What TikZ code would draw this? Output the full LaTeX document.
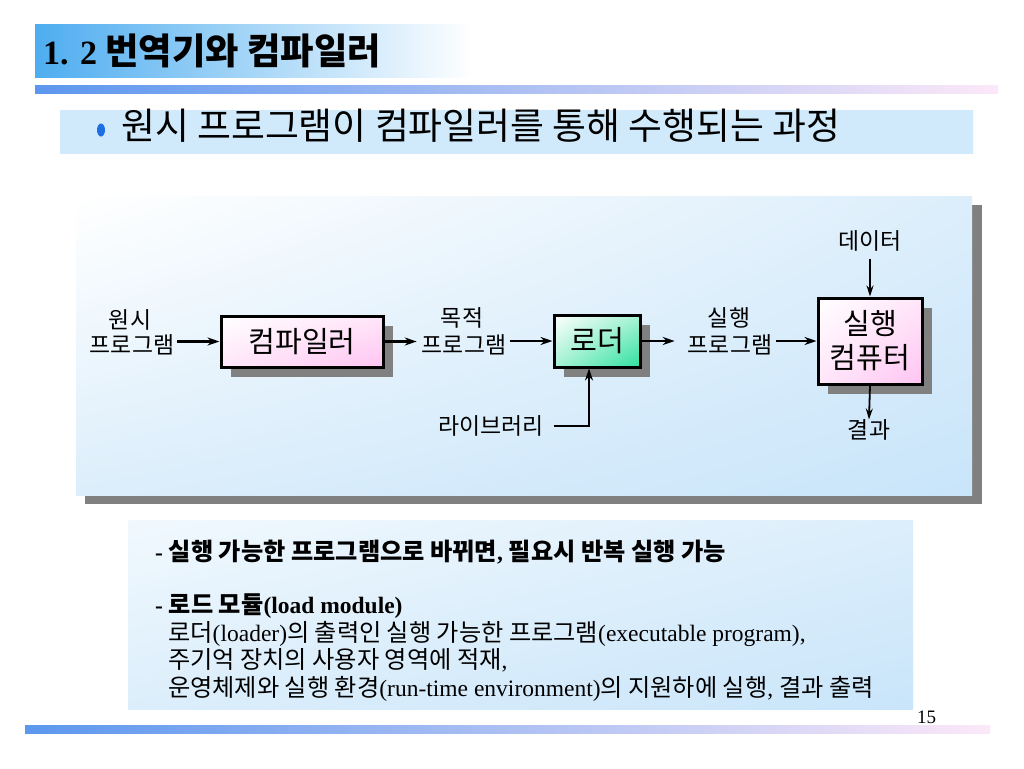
\documentclass[tikz,border=0pt]{standalone}
\usepackage{fontspec}
\setmainfont{Liberation Serif}
\newfontfamily\krf{Noto Sans CJK KR}[Scale=1.1]
\newcommand{\kt}[1]{{\krf\fontsize{22}{27}\selectfont #1}}
\usetikzlibrary{arrows.meta,shadows,shadings}

\definecolor{titleblue}{HTML}{4EADF0}
\definecolor{titlemid}{HTML}{BCE1FA}
\definecolor{barleft}{HTML}{5C97EE}
\definecolor{barmid}{HTML}{92CAF8}
\definecolor{barright}{HTML}{FCE8F8}
\definecolor{subband}{HTML}{D0EAFB}
\definecolor{subbandmid}{HTML}{EEF7FD}
\definecolor{panelblue}{HTML}{C9E5FA}
\definecolor{panelside}{HTML}{DCEEFB}
\definecolor{shadowgray}{HTML}{808080}
\definecolor{pinkmid}{HTML}{FFE6F9}
\definecolor{pinkend}{HTML}{FFC4F2}
\definecolor{greenmid}{HTML}{A6F2D4}
\definecolor{greenend}{HTML}{2FE0A0}
\definecolor{bulletblue}{HTML}{1E6FE6}

\begin{document}
\begin{tikzpicture}[x=1pt, y=-1pt,
    stage/.style = {draw, line width=3pt, inner sep=0pt, align=center,
        font=\krf\fontsize{26.5}{34}\selectfont,
        drop shadow={shadow xshift=10pt, shadow yshift=-10pt, fill=shadowgray, opacity=1}},
    pinkbox/.style = {upper left=white, upper right=pinkmid, lower left=pinkmid, lower right=pinkend},
    greenbox/.style = {upper left=white, upper right=greenmid, lower left=greenmid, lower right=greenend},
    lbl/.style = {inner sep=0pt, font=\krf\fontsize{20.8}{22}\selectfont},
    flow/.style = {line width=2.5pt, -{Stealth[length=12pt, width=8pt]}},
    thinflow/.style = {line width=1.8pt, -{Stealth[length=11pt, width=7pt]}},
    note/.style = {anchor=base west, inner sep=0pt, font=\fontsize{23.5}{27}\selectfont}]

    % page
    \fill[white] (0,0) rectangle (1024,768);
    \useasboundingbox (0,0) rectangle (1024,768);

    % heading bands
    \shade[left color=titleblue, middle color=titlemid, right color=white] (35,25) rectangle (473,77);
    \shade[left color=barleft, middle color=barmid, right color=barright] (35,85) rectangle (998,93);
    \shade[left color=subband, middle color=subbandmid, right color=subband] (60,110) rectangle (973,153);
    \shade[left color=barleft, middle color=barmid, right color=barright] (25,725) rectangle (990,733);

    \node[anchor=base west, inner sep=0pt] (title) at (43,64)
        {\fontsize{34}{34}\selectfont\bfseries 1. 2 \krf\fontsize{33}{34}\selectfont 번역기와 컴파일러};
    \fill[bulletblue] (101,130) ellipse (4 and 6.5);
    \node[anchor=base west, inner sep=0pt, font=\krf\fontsize{33.5}{34}\selectfont] (sub) at (121,139)
        {원시 프로그램이 컴파일러를 통해 수행되는 과정};

    % diagram panel
    \fill[shadowgray] (85,205) rectangle (982,504);
    \shade[upper left=white, upper right=panelside, lower left=panelside, lower right=panelblue] (76,196) rectangle (972,495);

    \node[stage, pinkbox, minimum width=162pt, minimum height=51pt] (comp) at (302,341.5) {컴파일러};
    \node[stage, greenbox, minimum width=86pt, minimum height=52pt] (ldr) at (597,341) {로더};
    \node[stage, pinkbox, minimum width=104pt, minimum height=86pt] (exe) at (870,341) {실행\\컴퓨터};

    \node[lbl] (src1) at (130,320) {원시};
    \node[lbl] (src2) at (132,345) {프로그램};
    \node[lbl] (obj1) at (462,318) {목적};
    \node[lbl] (obj2) at (464,345) {프로그램};
    \node[lbl] (run1) at (729,318) {실행};
    \node[lbl] (run2) at (730,345) {프로그램};
    \node[lbl] (data) at (870,241) {데이터};
    \node[lbl] (res) at (869,430) {결과};
    \node[lbl] (lib) at (491,426) {라이브러리};

    \draw[flow, shorten <=3pt] (src2.east |- comp.west) -- (comp.west);
    \draw[flow, shorten >=5pt] (comp.east) -- (obj2.west |- comp.east);
    \draw[flow, shorten <=4pt] (obj2.east |- ldr.west) -- (ldr.west);
    \draw[flow, shorten >=13pt] (ldr.east) -- (run2.west |- ldr.east);
    \draw[flow, shorten <=4pt] (run2.east |- exe.west) -- (exe.west);
    \draw[thinflow, shorten <=7pt] (data.south) -- (exe.north);
    \draw[thinflow] (exe.south) -- (res.north);
    \draw[flow, shorten <=10pt] (lib.east) -| ([xshift=-8pt]ldr.south);

    % notes
    \shade[upper left=white!70!subband, upper right=panelside, lower left=panelside, lower right=panelblue] (128,520) rectangle (913,709);
    \node[note] (line1) at (155,560)
        {\bfseries - \kt{실행 가능한 프로그램으로 바뀌면}, \kt{필요시 반복 실행 가능}};
    \node[note] (line2) at (155,613) {\bfseries - \kt{로드 모듈}(load module)};
    \node[note] (line3) at (168,641) {\kt{로더}(loader)\kt{의 출력인 실행 가능한 프로그램}(executable program),};
    \node[note] (line4) at (168,668) {\kt{주기억 장치의 사용자 영역에 적재},};
    \node[note] (line5) at (168,696) {\kt{운영체제와 실행 환경}(run-time environment)\kt{의 지원하에 실행}, \kt{결과 출력}};

    \node[anchor=base west, inner sep=0pt, font=\fontsize{19}{19}\selectfont] (page) at (917,723) {15};

\end{tikzpicture}
\end{document}
